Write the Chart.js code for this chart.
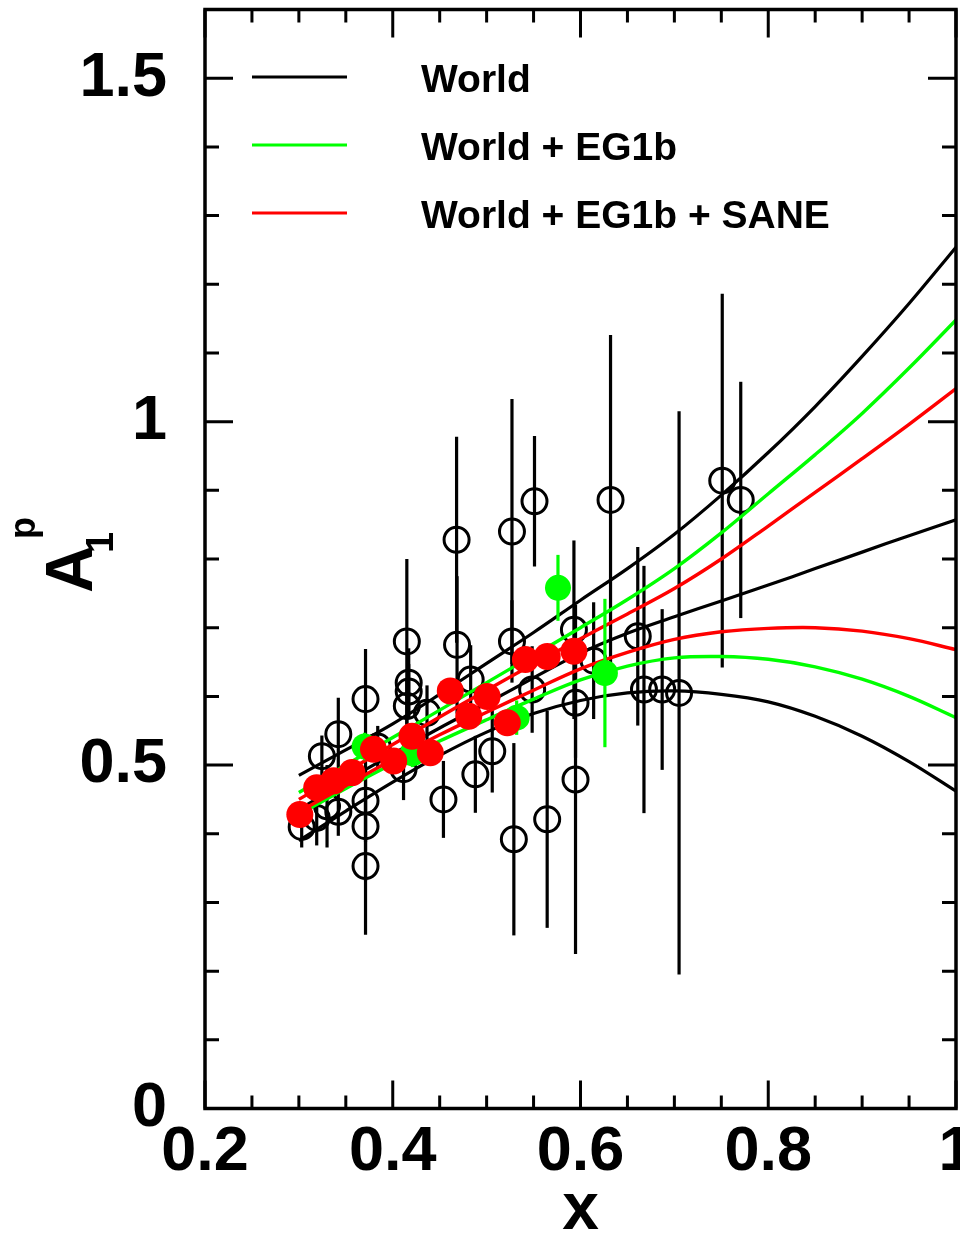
<!DOCTYPE html>
<html><head><meta charset="utf-8">
<script src="https://cdn.jsdelivr.net/npm/chart.js@4.4.1/dist/chart.umd.min.js"></script>
<style>html,body{margin:0;padding:0;background:#fff;}canvas{display:block;}</style>
</head><body>
<canvas id="c" width="960" height="1233"></canvas>
<script>
// ---------- axis ticks ----------
const xTickValues = [0.2, 0.4, 0.6, 0.8, 1.0];
const xTickLabels = ['0.2', '0.4', '0.6', '0.8', '1'];
const yTickValues = [0, 0.5, 1.0, 1.5];
const yTickLabels = ['0', '0.5', '1', '1.5'];

// ---------- fitted curves ----------
const curveX   = [0.30,0.35,0.40,0.45,0.50,0.55,0.60,0.65,0.70,0.75,0.80,0.85,0.90,0.95,1.00];
const worldHi  = [0.485,0.522,0.560,0.603,0.648,0.693,0.740,0.786,0.836,0.893,0.955,1.022,1.095,1.172,1.254];
const worldMid = [0.435,0.477,0.516,0.554,0.590,0.627,0.663,0.692,0.716,0.739,0.762,0.786,0.810,0.834,0.857];
const worldLo  = [0.390,0.433,0.475,0.514,0.548,0.575,0.594,0.605,0.608,0.603,0.592,0.571,0.542,0.505,0.462];
const eg1bHi   = [0.460,0.500,0.540,0.580,0.620,0.660,0.700,0.741,0.786,0.838,0.895,0.952,1.012,1.078,1.148];
const eg1bLo   = [0.428,0.466,0.502,0.535,0.566,0.596,0.624,0.644,0.656,0.658,0.654,0.643,0.625,0.600,0.569];
const saneHi   = [0.450,0.490,0.530,0.570,0.609,0.647,0.684,0.720,0.757,0.800,0.848,0.897,0.946,0.996,1.048];
const saneLo   = [0.432,0.470,0.508,0.544,0.577,0.609,0.640,0.664,0.683,0.694,0.699,0.700,0.695,0.684,0.668];

// ---------- world data (open circles) ----------
const worldX   = [0.303,0.319,0.3245,0.330,0.342,0.342,0.371,0.371,0.371,0.371,0.384,0.4115,0.415,0.417,0.417,0.415,0.4365,0.454,0.468,0.4685,0.483,0.488,0.506,0.527,0.527,0.529,0.5485,0.551,0.5645,0.593,0.5947,0.5947,0.614,0.632,0.661,0.6676,0.687,0.705,0.751,0.7707];
const worldY   = [0.410,0.423,0.513,0.440,0.545,0.432,0.596,0.448,0.411,0.353,0.527,0.494,0.680,0.620,0.607,0.586,0.576,0.450,0.828,0.675,0.6245,0.4865,0.520,0.840,0.680,0.392,0.610,0.884,0.421,0.697,0.5906,0.479,0.652,0.886,0.6875,0.610,0.610,0.605,0.914,0.886];
const worldErr = [0.030,0.040,0.030,0.060,0.053,0.035,0.073,0.060,0.080,0.100,0.030,0.045,0.120,0.050,0.040,0.040,0.040,0.056,0.150,0.100,0.050,0.056,0.060,0.193,0.060,0.140,0.063,0.095,0.158,0.130,0.080,0.254,0.085,0.240,0.130,0.180,0.117,0.410,0.272,0.172];

// ---------- EG1b data (green dots) ----------
const eg1bX   = [0.370,0.421,0.532,0.576,0.626];
const eg1bY   = [0.527,0.517,0.569,0.758,0.634];
const eg1bErr = [0.020,0.020,0.025,0.048,0.108];

// ---------- SANE data (red dots) ----------
const saneX = [0.301,0.319,0.337,0.3565,0.3795,0.401,0.4205,0.440,0.4613,0.481,0.5005,0.522,0.5413,0.5645,0.593];
const saneY = [0.428,0.467,0.477,0.489,0.523,0.506,0.542,0.518,0.608,0.571,0.600,0.5615,0.6536,0.658,0.6657];

// ---------- legend ----------
const legendLabels = ['World', 'World + EG1b', 'World + EG1b + SANE'];
const legendColors = ['#000000', '#00ff00', '#ff0000'];

const FONT = "'Liberation Sans', Arial, Helvetica, sans-serif";
const GREEN = '#00ff00', RED = '#ff0000', BLACK = '#000000';

const pts = (xs, ys) => xs.map((x, i) => ({x: x, y: ys[i]}));
const curve = (ys, color, w) => ({
  data: pts(curveX, ys), showLine: true, borderColor: color, borderWidth: w,
  pointRadius: 0, tension: 0.35, fill: false
});

const datasets = [
  {data: pts(saneX, saneY), pointRadius: 13.5, pointBackgroundColor: RED, pointBorderWidth: 0, pointBorderColor: RED},
  {data: pts(eg1bX, eg1bY), errors: eg1bErr, errorColor: GREEN, pointRadius: 13, pointBackgroundColor: GREEN, pointBorderWidth: 0, pointBorderColor: GREEN},
  curve(saneHi, RED, 3.4), curve(saneLo, RED, 3.4),
  curve(eg1bHi, GREEN, 3.4), curve(eg1bLo, GREEN, 3.4),
  curve(worldHi, BLACK, 3.2), curve(worldMid, BLACK, 3.2), curve(worldLo, BLACK, 3.2),
  {data: pts(worldX, worldY), errors: worldErr, errorColor: BLACK, pointRadius: 12.5, pointBackgroundColor: 'rgba(0,0,0,0)', pointBorderWidth: 3, pointBorderColor: BLACK}
];

const errorBarPlugin = {
  id: 'errbars',
  beforeDatasetDraw(chart, args) {
    const ds = chart.data.datasets[args.index];
    if (!ds.errors) return;
    const ctx = chart.ctx, xs = chart.scales.x, ys = chart.scales.y;
    ctx.save();
    ctx.strokeStyle = ds.errorColor; ctx.lineWidth = 3.2; ctx.lineCap = 'butt';
    ds.data.forEach((p, i) => {
      const e = ds.errors[i];
      const px = xs.getPixelForValue(p.x);
      ctx.beginPath();
      ctx.moveTo(px, ys.getPixelForValue(p.y - e));
      ctx.lineTo(px, ys.getPixelForValue(p.y + e));
      ctx.stroke();
    });
    ctx.restore();
  }
};

const framePlugin = {
  id: 'frame',
  afterDraw(chart) {
    const ctx = chart.ctx, a = chart.chartArea, xs = chart.scales.x, ys = chart.scales.y;
    ctx.save();
    ctx.strokeStyle = '#000';
    ctx.lineWidth = 3;
    ctx.lineCap = 'butt';
    // x ticks every 0.05, major every 0.2
    for (let k = 0; k <= 16; k++) {
      const v = 0.2 + k * 0.05;
      const px = xs.getPixelForValue(v);
      const len = (k % 4 === 0) ? 28 : 13;
      ctx.beginPath();
      ctx.moveTo(px, a.bottom); ctx.lineTo(px, a.bottom - len);
      ctx.moveTo(px, a.top); ctx.lineTo(px, a.top + len);
      ctx.stroke();
    }
    // y ticks every 0.1, major every 0.5
    for (let k = 0; k <= 16; k++) {
      const v = k * 0.1;
      const py = ys.getPixelForValue(v);
      const len = (k % 5 === 0) ? 28 : 14;
      ctx.beginPath();
      ctx.moveTo(a.left, py); ctx.lineTo(a.left + len, py);
      ctx.moveTo(a.right, py); ctx.lineTo(a.right - len, py);
      ctx.stroke();
    }
    ctx.lineWidth = 3.5;
    ctx.strokeRect(a.left, a.top, a.right - a.left, a.bottom - a.top);

    // legend
    const rowsY = [77, 145, 213];
    ctx.font = 'bold 39px ' + FONT;
    ctx.textBaseline = 'alphabetic';
    ctx.textAlign = 'left';
    legendLabels.forEach((lab, i) => {
      ctx.strokeStyle = legendColors[i];
      ctx.lineWidth = 3.2;
      ctx.beginPath();
      ctx.moveTo(252, rowsY[i]); ctx.lineTo(347, rowsY[i]);
      ctx.stroke();
      ctx.fillStyle = '#000';
      ctx.fillText(lab, 421, rowsY[i] + 15);
    });

    // x axis title
    ctx.fillStyle = '#000';
    ctx.font = 'bold 66px ' + FONT;
    ctx.textAlign = 'center';
    ctx.textBaseline = 'alphabetic';
    ctx.fillText('x', (a.left + a.right) / 2, 1229);

    // y axis title: A with subscript 1 and superscript p, rotated
    ctx.save();
    ctx.translate(92, 593);
    ctx.rotate(-Math.PI / 2);
    ctx.textAlign = 'left';
    ctx.font = 'bold 66px ' + FONT;
    ctx.fillText('A', 0, 0);
    ctx.font = 'bold 38px ' + FONT;
    ctx.fillText('1', 40, 21);
    ctx.font = 'bold 36px ' + FONT;
    ctx.fillText('p', 54, -57);
    ctx.restore();

    ctx.restore();
  }
};

new Chart(document.getElementById('c').getContext('2d'), {
  type: 'scatter',
  data: {datasets: datasets},
  options: {
    responsive: false, animation: false, devicePixelRatio: 1, events: [],
    layout: {autoPadding: false, padding: {top: 9.5, right: 4, left: 0, bottom: 0}},
    plugins: {legend: {display: false}, tooltip: {enabled: false}},
    scales: {
      x: {
        type: 'linear', min: 0.2, max: 1.0, position: 'bottom',
        grid: {display: false, drawTicks: false}, border: {display: false},
        ticks: {font: {family: FONT, size: 63, weight: 'bold'}, color: '#000', padding: 6,
                maxRotation: 0, autoSkip: false, includeBounds: false,
                callback: (v, i) => xTickLabels[i]},
        afterBuildTicks: s => { s.ticks = xTickValues.map(v => ({value: v})); },
        afterFit: s => { s.height = 124.5; s.paddingLeft = 0; s.paddingRight = 0; }
      },
      y: {
        type: 'linear', min: 0, max: 1.6, position: 'left',
        grid: {display: false, drawTicks: false}, border: {display: false},
        ticks: {font: {family: FONT, size: 63, weight: 'bold'}, color: '#000', padding: 38,
                autoSkip: false, includeBounds: false,
                callback: (v, i) => yTickLabels[i]},
        afterBuildTicks: s => { s.ticks = yTickValues.map(v => ({value: v})); },
        afterFit: s => { s.width = 205; s.paddingTop = 0; s.paddingBottom = 0; }
      }
    }
  },
  plugins: [errorBarPlugin, framePlugin]
});
</script>
</body></html>
